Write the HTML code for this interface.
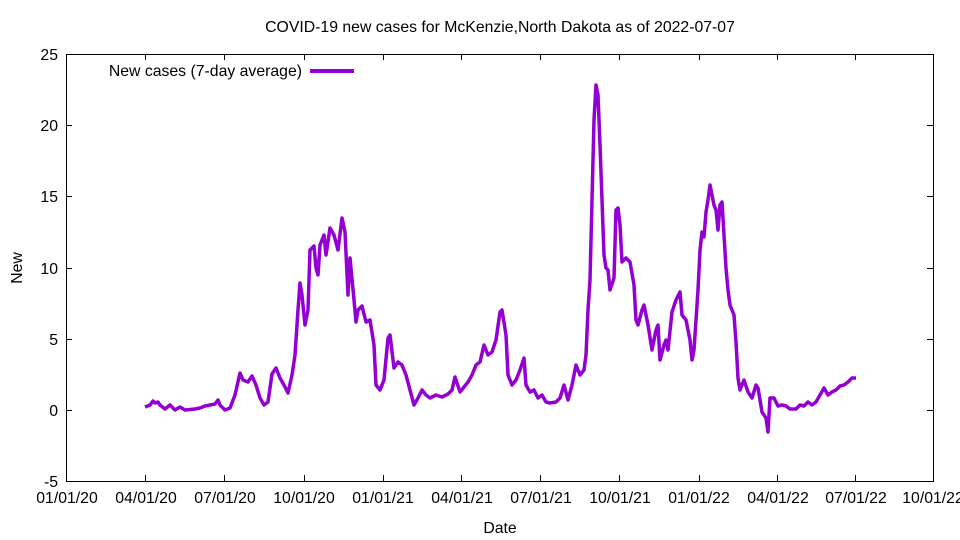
<!DOCTYPE html>
<html><head><meta charset="utf-8"><style>
body{margin:0;background:#fff;}
svg{display:block;font-family:"Liberation Sans",sans-serif;font-size:15.8px;}
</style></head><body>
<svg width="960" height="540" xmlns="http://www.w3.org/2000/svg">
<rect width="960" height="540" fill="#fff"/>
<text x="500" y="32" text-anchor="middle">COVID-19 new cases for McKenzie,North Dakota as of 2022-07-07</text>
<g stroke="#000" stroke-width="1" fill="none">
<rect x="66.5" y="54.5" width="867" height="427"/>
<path d="M66 54.5h6M933 54.5h-6M66 125.5h6M933 125.5h-6M66 196.5h6M933 196.5h-6M66 268.5h6M933 268.5h-6M66 339.5h6M933 339.5h-6M66 410.5h6M933 410.5h-6M66 481.5h6M933 481.5h-6"/>
<path d="M145.5 481v-6M145.5 54v6M224.5 481v-6M224.5 54v6M304.5 481v-6M304.5 54v6M383.5 481v-6M383.5 54v6M461.5 481v-6M461.5 54v6M540.5 481v-6M540.5 54v6M619.5 481v-6M619.5 54v6M699.5 481v-6M699.5 54v6M777.5 481v-6M777.5 54v6M855.5 481v-6M855.5 54v6"/>
</g>
<g text-anchor="end">
<text x="58" y="60">25</text><text x="58" y="131">20</text><text x="58" y="202">15</text>
<text x="58" y="274">10</text><text x="58" y="345">5</text><text x="58" y="416">0</text><text x="58" y="487">-5</text>
</g>
<g text-anchor="middle">
<text x="67" y="503">01/01/20</text><text x="146" y="503">04/01/20</text><text x="225" y="503">07/01/20</text>
<text x="304" y="503">10/01/20</text><text x="383" y="503">01/01/21</text><text x="462" y="503">04/01/21</text>
<text x="541" y="503">07/01/21</text><text x="620" y="503">10/01/21</text><text x="699" y="503">01/01/22</text>
<text x="778" y="503">04/01/22</text><text x="856" y="503">07/01/22</text><text x="933" y="503">10/01/22</text>
<text x="500" y="533">Date</text>
</g>
<text transform="translate(22,268) rotate(-90)" text-anchor="middle">New</text>
<text x="302" y="76" text-anchor="end">New cases (7-day average)</text>
<line x1="310" y1="71" x2="354" y2="71" stroke="#9400d3" stroke-width="4"/>
<polyline fill="none" stroke="#9400d3" stroke-width="3.5" stroke-linejoin="round" points="145,407 150,405 153,401 155,403 158,402 160,405 165,409 170,405 175,410 180,407 185,410 195,409 200,408 205,406 210,405 215,404 218,400 220,405 225,410 230,408 235,395 240,373 243,380 248,382 252,376 256,385 260,398 264,405 268,402 272,374 276,368 280,378 284,385 288,393 292,375 295,355 298,310 300,283 302,295 305,325 308,310 310,250 314,246 316,268 318,275 320,245 324,235 326,255 330,228 334,235 338,250 342,218 345,232 348,295 350,258 354,300 356,322 358,310 362,306 366,322 370,320 374,345 376,385 380,390 384,380 388,338 390,335 394,368 398,362 402,365 406,375 410,390 414,405 418,398 422,390 426,395 430,398 436,395 442,397 448,394 452,390 455,377 460,392 464,387 468,382 472,375 476,365 480,362 484,345 488,355 492,352 496,340 500,312 502,310 506,335 508,375 512,385 516,380 520,370 524,358 526,385 530,392 534,390 538,398 542,395 546,402 550,403 556,402 560,398 564,385 568,400 572,385 576,365 580,375 584,370 586,355 588,310 590,280 592,200 594,120 596,85 598,95 600,145 602,200 604,255 606,268 608,270 610,290 614,278 616,210 618,208 620,225 622,262 626,258 630,262 634,285 636,320 638,325 642,310 644,305 648,325 652,350 656,330 658,325 660,360 664,345 666,340 668,350 672,312 676,300 680,292 682,315 686,320 690,340 692,360 694,350 696,320 698,290 700,250 702,232 704,237 706,212 708,200 710,185 712,195 714,205 716,210 718,230 720,205 722,202 726,268 728,290 730,305 734,315 736,342 738,378 740,390 744,380 748,392 752,398 756,385 758,388 762,412 766,418 768,432 770,398 774,398 778,406 782,405 786,406 790,409 796,409 800,405 804,406 808,402 812,405 816,402 820,395 824,388 828,395 832,392 836,390 840,386 844,385 848,382 852,378 856,378"/>
</svg>
</body></html>
